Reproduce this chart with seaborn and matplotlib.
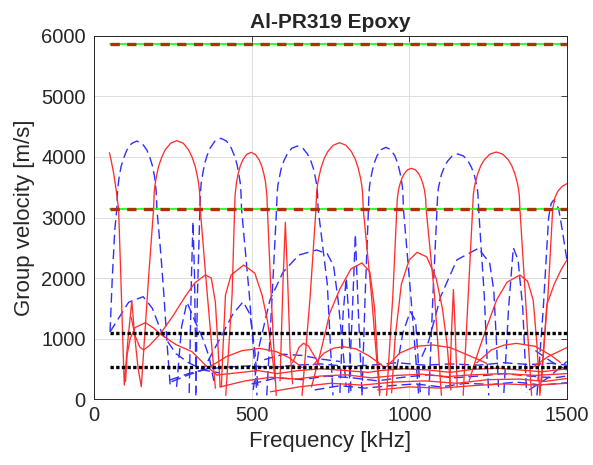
import matplotlib
matplotlib.use("Agg")
import matplotlib.pyplot as plt
import seaborn as sns
import pandas as pd

# ---------------- data (frequency kHz, group velocity m/s) ----------------
# red (solid) modes
red_main = [(49, 4071), (55, 3930), (62, 3740), (70, 3470), (78, 3140), (84, 2200), (90, 1200), (96, 231),
            (108, 1000), (120, 1620), (128, 1100), (140, 500), (150, 205), (173, 1995),
            (189, 3140), (191, 3415), (194, 3556), (198, 3677), (205, 3847), (215, 3999), (226, 4119),
            (243, 4228), (263, 4270), (283, 4228), (300, 4119), (311, 3999), (321, 3847), (328, 3677),
            (332, 3556), (335, 3415), (337, 3140), (355, 1995), (385, 180)]
red_arch3 = [(418, 60), (438, 1719), (446, 3140), (447.5, 3368), (450, 3485), (452, 3585), (457.5, 3727),
             (464, 3852), (472, 3951), (484, 4042), (498, 4077), (512, 4042), (524, 3951), (532, 3852),
             (538.5, 3727), (544, 3585), (546, 3485), (548.5, 3368), (550, 3140), (562, 1700), (578, 60)]
red_arch4 = [(660, 60), (686, 1719), (704, 3140), (706, 3406), (709, 3543), (713, 3661), (720.5, 3826),
             (730, 3973), (741.5, 4089), (759, 4195), (779, 4236), (799, 4195), (816.5, 4089), (828, 3973),
             (837.5, 3826), (845, 3661), (849, 3543), (852, 3406), (854, 3140), (880, 1719), (906, 60)]
red_arch5 = [(928, 60), (948, 1719), (960.5, 3140), (962, 3304), (964, 3388), (966, 3460), (971, 3561),
             (977, 3651), (984, 3723), (994.5, 3788), (1007, 3813), (1019.5, 3788), (1030, 3723),
             (1037, 3651), (1043, 3561), (1048, 3460), (1050, 3388), (1052, 3304), (1053.5, 3140),
             (1080, 1719), (1102, 60)]
red_arch6 = [(1171, 60), (1187, 1719), (1201, 3140), (1203, 3369), (1206, 3487), (1210, 3588),
             (1217.5, 3730), (1227, 3857), (1238.5, 3957), (1256, 4048), (1276, 4083), (1296, 4048),
             (1313.5, 3957), (1325, 3857), (1334.5, 3730), (1342, 3588), (1346, 3487), (1349, 3369),
             (1351, 3140), (1368, 1719), (1388, 60)]
red_arch7 = [(1414, 60), (1440, 1719), (1455, 3140), (1462, 3330), (1472, 3440), (1485, 3515), (1500, 3560)]
red_a = [(100, 290), (105, 730), (115, 1000), (130, 1180), (163, 1262), (190, 1170), (210, 1074), (260, 900),
         (311, 782), (353, 562), (390, 397)]
red_b = [(118, 1350), (130, 1050), (145, 860), (157, 810), (175, 880), (210, 1075), (250, 1370), (290, 1700),
         (320, 1920), (353, 2050), (372, 2000), (385, 1600), (393, 900), (400, 200)]
red_c = [(404, 200), (408, 700), (417, 1719), (435, 2050), (475, 2215), (510, 2080), (533, 1719), (550, 1300),
         (565, 727), (575, 300)]
red_spike1 = [(590, 300), (600, 2000), (607, 2920), (614, 2000), (622, 800), (630, 250)]
red_d = [(690, 200), (720, 800), (748, 1421), (780, 1820), (815, 2150), (850, 2250), (875, 2100), (890, 1500),
         (900, 600), (907, 100)]
red_e = [(944, 100), (955, 1000), (975, 1900), (1000, 2300), (1025, 2424), (1055, 2350), (1085, 2000),
         (1105, 1500), (1120, 900), (1132, 150)]
red_spike2 = [(1128, 200), (1134, 1100), (1140, 1810), (1146, 1100), (1152, 200)]
red_g = [(1190, 300), (1220, 800), (1250, 1250), (1277, 1636), (1310, 1930), (1351, 2050), (1375, 1950),
         (1393, 1636), (1405, 900), (1414, 100)]
red_f = [(1420, 300), (1436, 1554), (1460, 1900), (1480, 2120), (1500, 2300)]
red_low1 = [(368, 534), (420, 700), (470, 800), (526, 837), (580, 780), (620, 680), (643, 590), (660, 520)]
red_low2 = [(630, 600), (650, 850), (664, 920), (680, 880), (700, 700), (715, 560)]
red_low3 = [(695, 560), (730, 760), (760, 840), (791, 865), (830, 830), (870, 720), (900, 610), (918, 534)]
red_low4 = [(928, 534), (970, 760), (1020, 870), (1076, 893), (1130, 850), (1180, 740), (1220, 650), (1245, 590)]
red_low5 = [(1214, 600), (1260, 810), (1300, 890), (1340, 920), (1400, 870), (1450, 720), (1480, 600)]
red_low6 = [(1390, 520), (1440, 700), (1500, 850)]
red_flat1 = [(390, 397), (450, 430), (520, 470), (580, 420), (650, 470), (720, 500), (800, 470), (870, 440),
             (907, 470), (980, 500), (1060, 480), (1130, 440), (1200, 490), (1280, 510), (1350, 480),
             (1420, 450), (1500, 500)]
red_flat2 = [(400, 200), (480, 300), (560, 360), (640, 330), (720, 380), (800, 400), (880, 350), (960, 390),
             (1040, 410), (1120, 370), (1200, 400), (1300, 420), (1400, 390), (1500, 420)]
red_flat3 = [(560, 120), (650, 200), (750, 260), (850, 230), (950, 280), (1050, 300), (1150, 260), (1250, 320),
             (1350, 330), (1430, 290), (1500, 340)]
red_flat4 = [(900, 150), (1000, 200), (1100, 180), (1200, 220), (1300, 250), (1400, 230), (1500, 260)]

# blue (dashed) modes
blue_arch1 = [(51, 1110), (58, 2000), (66, 2800), (72.5, 3140), (74.5, 3413), (77, 3554), (80, 3674),
              (86, 3844), (95, 3994), (104, 4113), (119, 4222), (136, 4264), (153, 4222), (168, 4113),
              (177, 3994), (186, 3844), (192, 3674), (195, 3554), (197.5, 3413), (199.5, 3140), (212, 2400),
              (222, 1700), (232, 900), (242, 200)]
blue_arch2 = [(323, 60), (328, 1700), (336, 3140), (338, 3424), (340, 3570), (344, 3695), (350, 3872),
              (359, 4028), (369, 4152), (384, 4266), (402, 4309), (420, 4266), (435, 4152), (445, 4028),
              (454, 3872), (460, 3695), (464, 3570), (466, 3424), (468, 3140), (493, 1700), (517, 60)]
blue_arch3 = [(548, 60), (565, 1700), (579, 3140), (581, 3393), (583, 3523), (587, 3635), (593, 3792),
              (602, 3932), (612, 4042), (627, 4143), (645, 4182), (663, 4143), (678, 4042), (688, 3932),
              (697, 3792), (703, 3635), (707, 3523), (709, 3393), (711, 3140), (740, 1900), (758, 60)]
blue_arch4 = [(850, 60), (860, 1700), (870.5, 3140), (872, 3388), (874, 3515), (877, 3624), (883, 3779),
              (890, 3915), (898, 4023), (911, 4122), (926, 4160), (941, 4122), (954, 4023), (962, 3915),
              (969, 3779), (975, 3624), (978, 3515), (980, 3388), (981.5, 3140), (1005, 1700), (1030, 60)]
blue_arch5 = [(1062, 60), (1075, 1700), (1088, 3140), (1090, 3361), (1092, 3475), (1096, 3572),
              (1102, 3710), (1111, 3832), (1121, 3928), (1136, 4016), (1154, 4050), (1172, 4016),
              (1187, 3928), (1197, 3832), (1206, 3710), (1212, 3572), (1216, 3475), (1218, 3361),
              (1220, 3140), (1238, 1700), (1252, 60)]
blue_arch6 = [(1405, 60), (1425, 1500), (1442, 3000), (1450, 3230), (1458, 3289), (1466, 3230), (1474, 3140),
              (1485, 2800), (1500, 2300)]
blue_low1 = [(51, 1110), (80, 1350), (110, 1600), (156, 1691), (185, 1500), (215, 1091), (260, 750),
             (300, 600), (347, 480), (400, 430)]
blue_low2 = [(505, 150), (525, 900), (558, 1636), (600, 2100), (650, 2380), (706, 2463), (740, 2400),
             (760, 2200), (775, 1600), (790, 800), (800, 200)]
blue_low3 = [(1040, 700), (1061, 947), (1100, 1700), (1151, 2300), (1219, 2490), (1255, 2250), (1268, 1800),
             (1276, 1000), (1283, 200)]
blue_low4 = [(246, 286), (300, 400), (346, 480), (400, 1000), (440, 1400), (473, 1608), (495, 1400),
             (510, 800), (520, 200)]
blue_low5 = [(262, 200), (278, 1200), (295, 1600), (315, 1350), (345, 1000), (365, 700), (380, 300)]
blue_spike1 = [(302, 100), (309, 2000), (314, 2930), (319, 2000), (324, 100)]
blue_spike2 = [(808, 100), (820, 1500), (829, 2720), (838, 1500), (850, 100)]
blue_spike3 = [(780, 100), (790, 1400), (800, 2000), (808, 1400), (815, 100)]
blue_small = [(960, 500), (980, 1100), (1003, 1443), (1020, 1300), (1030, 500), (1035, 100)]
blue_arch13 = [(1300, 100), (1315, 1500), (1330, 2500), (1345, 2300), (1360, 1500), (1372, 100)]
blue_diag1 = [(1400, 800), (1450, 620), (1500, 480)]
blue_diag2 = [(1380, 150), (1440, 350), (1500, 620)]
blue_mid = [(540, 650), (600, 740), (660, 720), (720, 660), (780, 620)]
blue_flat1 = [(241, 314), (300, 420), (360, 500), (430, 530), (500, 550), (560, 520), (640, 560), (720, 580),
              (800, 540), (880, 560), (960, 600), (1050, 560), (1130, 580), (1220, 560), (1300, 600),
              (1380, 570), (1450, 590), (1500, 560)]
blue_flat2 = [(500, 250), (580, 350), (660, 320), (740, 380), (820, 350), (900, 300), (980, 360), (1060, 400),
              (1140, 350), (1220, 380), (1300, 420), (1380, 380), (1460, 350), (1500, 380)]
blue_flat3 = [(700, 150), (780, 220), (860, 180), (940, 220), (1020, 250), (1100, 200), (1180, 260),
              (1260, 240), (1340, 280), (1420, 230), (1500, 270)]

# reference levels
freq_span = [50, 1500]
bulk_levels = [5860, 3140]        # green / brown dashed
dotted_levels = [1090, 530]       # black dotted

red_curves = [red_main, red_arch3, red_arch4, red_arch5, red_arch6, red_arch7, red_a, red_b, red_c,
              red_spike1, red_d, red_e, red_spike2, red_g, red_f, red_low1, red_low2, red_low3, red_low4,
              red_low5, red_low6, red_flat1, red_flat2, red_flat3, red_flat4]
blue_curves = [blue_arch1, blue_arch2, blue_arch3, blue_arch4, blue_arch5, blue_arch6, blue_low1, blue_low2,
               blue_low3, blue_low4, blue_low5, blue_spike1, blue_spike2, blue_spike3, blue_small,
               blue_arch13, blue_diag1, blue_diag2, blue_mid, blue_flat1, blue_flat2, blue_flat3]


def to_frame(curves):
    rows = []
    for i, c in enumerate(curves):
        for j, (f, v) in enumerate(c):
            rows.append({"freq": f, "vel": v, "curve": i, "order": j})
    return pd.DataFrame(rows)


def level_frame(levels):
    rows = []
    for i, lv in enumerate(levels):
        for f in freq_span:
            rows.append({"freq": f, "vel": lv, "curve": i})
    return pd.DataFrame(rows)


red_df = to_frame(red_curves)
blue_df = to_frame(blue_curves)
bulk_df = level_frame(bulk_levels)
dot_df = level_frame(dotted_levels)

# ---------------- plot ----------------
sns.set_theme(style="white")
plt.rcParams["font.family"] = ["Liberation Sans", "DejaVu Sans"]

fig = plt.figure(figsize=(5.93, 4.65), dpi=100)
ax = fig.add_axes([0.1585, 0.1419, 0.7975, 0.7807])

common = dict(x="freq", y="vel", units="curve", estimator=None, sort=False, ax=ax, legend=False)
sns.lineplot(data=blue_df, color="#2f2fff", lw=1.0, linestyle=(0, (7, 3.5)), **common)
sns.lineplot(data=red_df, color="#ff2e2e", lw=0.95, **common)
sns.lineplot(data=bulk_df, color="#22ff22", lw=1.3, **common)
sns.lineplot(data=bulk_df, color="#a3360c", lw=2.4, linestyle=(0, (2.8, 2.2)), **common)
sns.lineplot(data=dot_df, color="black", lw=2.4, linestyle=(0, (1.0, 0.7)), **common)

ax.set_xlim(0, 1500)
ax.set_ylim(0, 6000)
ax.set_xticks([0, 500, 1000, 1500])
ax.set_yticks([0, 1000, 2000, 3000, 4000, 5000, 6000])
ax.grid(True, color="#dedede", lw=0.7)
ax.set_axisbelow(True)
ax.tick_params(direction="in", top=True, right=True, length=4, width=0.6,
               labelsize=14.5, color="#262626", labelcolor="#262626")
ax.tick_params(axis="y", pad=6)
ax.tick_params(axis="x", pad=5)
for s in ax.spines.values():
    s.set_color("#262626")
    s.set_linewidth(0.7)

ax.set_title("Al-PR319 Epoxy", fontsize=15, fontweight="bold", pad=6)
ax.set_xlabel("Frequency [kHz]", fontsize=16, color="#262626", labelpad=4)
ax.set_ylabel("Group velocity [m/s]", fontsize=16, color="#262626", labelpad=4)

fig.savefig("out.png", dpi=100)
